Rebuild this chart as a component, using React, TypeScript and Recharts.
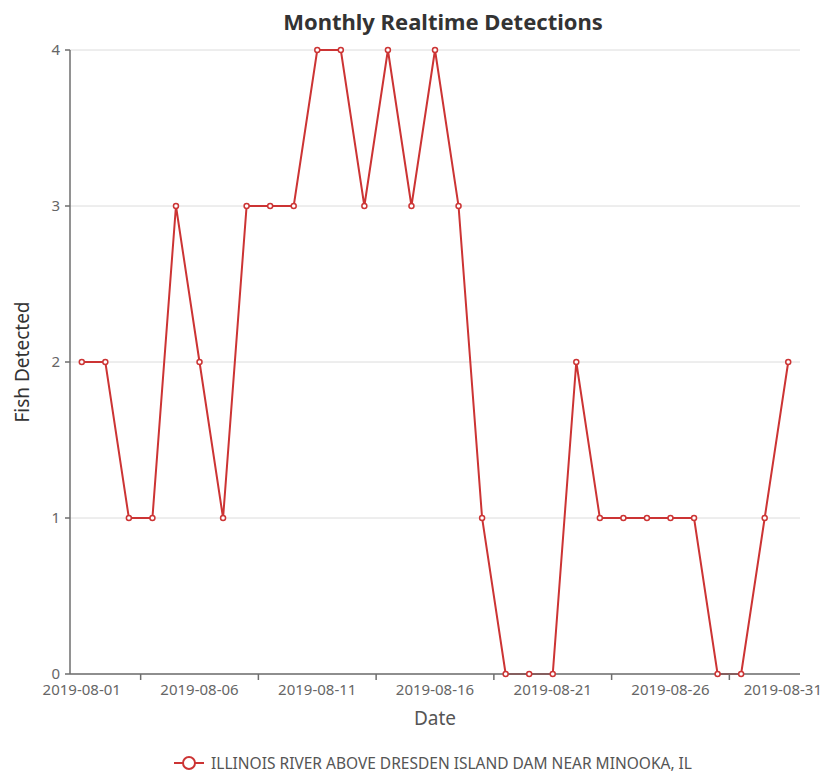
import React from 'react';
import { LineChart, Line, XAxis, YAxis, CartesianGrid, Legend } from 'recharts';

const dates = [
  '2019-08-01', '2019-08-02', '2019-08-03', '2019-08-04', '2019-08-05', '2019-08-06',
  '2019-08-07', '2019-08-08', '2019-08-09', '2019-08-10', '2019-08-11', '2019-08-12',
  '2019-08-13', '2019-08-14', '2019-08-15', '2019-08-16', '2019-08-17', '2019-08-18',
  '2019-08-19', '2019-08-20', '2019-08-21', '2019-08-22', '2019-08-23', '2019-08-24',
  '2019-08-25', '2019-08-26', '2019-08-27', '2019-08-28', '2019-08-29', '2019-08-30',
  '2019-08-31',
];
const fishDetected = [2, 2, 1, 1, 3, 2, 1, 3, 3, 3, 4, 4, 3, 4, 3, 4, 3, 1, 0, 0, 0, 2, 1, 1, 1, 1, 1, 0, 0, 1, 2];
const yTicks = [0, 1, 2, 3, 4];
const seriesName = 'ILLINOIS RIVER ABOVE DRESDEN ISLAND DAM NEAR MINOOKA, IL';

const data = dates.map((d, i) => ({ date: d, value: fishDetected[i] }));

const FONT = '"Noto Sans", "Open Sans", sans-serif';
const CHART_W = 815;
const CHART_H = 767;
const MARGIN = { top: 42, right: 23, left: 0, bottom: 41 };
const Y_W = 62;
const X_H = 60;
const PLOT_W = CHART_W - MARGIN.left - MARGIN.right - Y_W;
const BW = PLOT_W / dates.length;
const TICK_SIZE = 6;
const TICK_MARGIN = 4;
const RED = '#cc3434';
const AXIS = '#6e6e6e';

const XTick = (props: any) => {
  const { x, y, payload } = props;
  const i = dates.indexOf(payload.value);
  const axisY = y - TICK_SIZE - TICK_MARGIN;
  const lx = x + 2.5 * BW;
  const isLast = i === dates.length - 1;
  return (
    <g>
      <text
        x={isLast ? CHART_W - 1 : x}
        y={y}
        dy="0.71em"
        textAnchor={isLast ? 'end' : 'middle'}
        fill="#666"
        fontSize={15}
        fontFamily={FONT}
      >
        {payload.value}
      </text>
      {i + 3 < dates.length && (
        <line x1={lx} x2={lx} y1={axisY} y2={axisY + TICK_SIZE} stroke={AXIS} strokeWidth={1.5} />
      )}
    </g>
  );
};

const LegendContent = (props: any) => {
  const items = props.payload || [];
  return (
    <div style={{ display: 'flex', justifyContent: 'center', alignItems: 'center' }}>
      {items.map((it: any) => (
        <div key={it.value} style={{ display: 'flex', alignItems: 'center' }}>
          <svg width={30} height={16} style={{ marginRight: 7 }}>
            <line x1={0} x2={30} y1={8} y2={8} stroke={RED} strokeWidth={2} />
            <circle cx={15} cy={8} r={6} fill="#fff" stroke={RED} strokeWidth={2} />
          </svg>
          <span style={{ color: '#555', fontSize: 15.5, fontFamily: FONT, lineHeight: '20px' }}>{it.value}</span>
        </div>
      ))}
    </div>
  );
};

export default function App() {
  return (
    <div style={{ position: 'relative', width: CHART_W, height: CHART_H }}>
      <div
        style={{
          position: 'absolute',
          top: -1,
          left: 0,
          width: 870,
          textAlign: 'center',
          fontFamily: FONT,
          fontWeight: 700,
          fontSize: 22,
          color: '#333',
          lineHeight: '28px',
        }}
      >
        Monthly Realtime Detections
      </div>
      <LineChart width={CHART_W} height={CHART_H} data={data} margin={MARGIN}>
        <CartesianGrid vertical={false} stroke="#dcdcdc" strokeWidth={1} />
        <XAxis
          dataKey="date"
          interval={4}
          height={X_H}
          padding={{ left: BW / 2, right: BW / 2 }}
          tickLine={false}
          tickSize={TICK_SIZE}
          tickMargin={TICK_MARGIN}
          tick={<XTick />}
          stroke={AXIS}
          strokeWidth={1.5}
          label={({ viewBox }: any) => (
            <text
              x={viewBox.x + viewBox.width / 2}
              y={viewBox.y + 44}
              textAnchor="middle"
              dominantBaseline="central"
              fill="#555"
              fontSize={19}
              fontFamily={FONT}
            >
              Date
            </text>
          )}
        />
        <YAxis
          width={Y_W}
          domain={[0, 4]}
          ticks={yTicks}
          interval={0}
          tickSize={5}
          tickMargin={5}
          stroke={AXIS}
          strokeWidth={1.5}
          tick={{ fill: '#666', fontSize: 15, fontFamily: FONT }}
          label={({ viewBox }: any) => (
            <text
              x={viewBox.x + 14}
              y={viewBox.y + viewBox.height / 2}
              textAnchor="middle"
              dominantBaseline="central"
              transform={`rotate(-90, ${viewBox.x + 14}, ${viewBox.y + viewBox.height / 2})`}
              fill="#333"
              fontSize={19}
              fontFamily={FONT}
            >
              Fish Detected
            </text>
          )}
        />
        <Legend
          verticalAlign="middle"
          content={<LegendContent />}
          wrapperStyle={{ top: 745, left: 0, width: 850 }}
        />
        <Line
          name={seriesName}
          dataKey="value"
          stroke={RED}
          strokeWidth={2}
          dot={{ r: 2.5, fill: '#fff', stroke: RED, strokeWidth: 1.5 }}
          activeDot={false}
          isAnimationActive={false}
        />
      </LineChart>
    </div>
  );
}
